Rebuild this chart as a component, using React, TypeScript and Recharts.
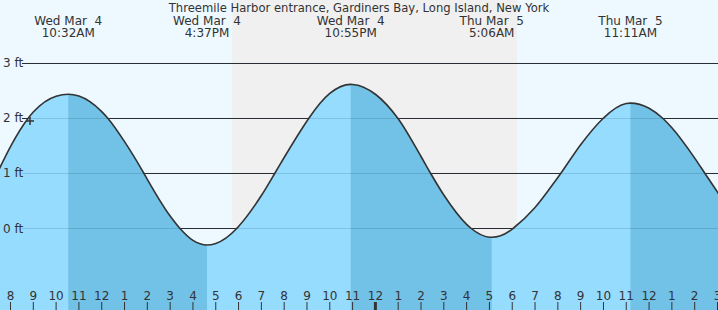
import React from 'react';
import {
  ComposedChart,
  Area,
  Line,
  XAxis,
  YAxis,
  ReferenceLine,
  ReferenceArea,
  ReferenceDot,
} from 'recharts';

// ---------- data (hours counted from Wed Mar 4, 00:00) ----------
const title = 'Threemile Harbor entrance, Gardiners Bay, Long Island, New York';

const tideTimes = [
  7.5, 8, 8.767, 9, 10, 10.533, 11, 12, 12.275, 13, 13.854, 14, 15, 15.432, 16, 16.617,
  17, 17.918, 18, 19, 19.585, 20, 21, 21.075, 22, 22.917, 23, 24, 24.991, 26,
  26.425, 27, 28, 28.205, 29, 29.1, 30, 30.034, 31, 32, 32.125, 33, 33.98, 34, 35,
  35.183, 36, 36.61, 37, 38, 38.452, 39, 39.05,
];
const tideFeet = [
  1.076, 1.49, 2.0, 2.117, 2.406, 2.44, 2.407, 2.124, 2.0, 1.58, 1.0, 0.893, 0.226, 0.0, -0.216, -0.3,
  -0.272, 0.0, 0.037, 0.599, 1.0, 1.291, 1.954, 2.0, 2.456, 2.62, 2.619, 2.441, 2.0, 1.309,
  1.0, 0.609, 0.076, 0.0, -0.158, -0.16, -0.011, 0.0, 0.383, 0.929, 1.0, 1.524, 2.0, 2.008, 2.273,
  2.28, 2.186, 2.0, 1.831, 1.28, 1.0, 0.662, 0.632,
];

const extremeTimes = [10.533, 16.617, 22.917, 29.1, 35.183];
const extremeKinds = ['high', 'low', 'high', 'low', 'high'];
const extremeDays = ['Wed Mar  4', 'Wed Mar  4', 'Wed Mar  4', 'Thu Mar  5', 'Thu Mar  5'];
const extremeClock = ['10:32AM', '4:37PM', '10:55PM', '5:06AM', '11:11AM'];

const hourTicks = [
  8, 9, 10, 11, 12, 13, 14, 15, 16, 17, 18, 19, 20, 21, 22, 23,
  24, 25, 26, 27, 28, 29, 30, 31, 32, 33, 34, 35, 36, 37, 38, 39,
];
const hourLabels = [
  '8', '9', '10', '11', '12', '1', '2', '3', '4', '5', '6', '7', '8', '9', '10', '11',
  '12', '1', '2', '3', '4', '5', '6', '7', '8', '9', '10', '11', '12', '1', '2', '3',
];
const midnightHour = 24;

const feetTicks = [0, 1, 2, 3];
const feetLabels = ['0 ft', '1 ft', '2 ft', '3 ft'];

const sunsetTime = 17.72;
const sunriseTime = 30.21;

const nowTime = 8.856;
const nowFeet = 1.955;

const viewStart = 7.5396;
const viewEnd = 39.0225;
const feetMin = -1.4818;
const feetMax = 4.1545;
const gridStart = 8.504;

// ---------- derived table ----------
const ebbSpans = extremeTimes
  .map((t, i) => ({ t, i }))
  .filter((e) => extremeKinds[e.i] === 'high')
  .map((e) => [e.t, e.i + 1 < extremeTimes.length ? extremeTimes[e.i + 1] : viewEnd + 1]);

const tideData = tideTimes.map((t, i) => {
  const inEbb = ebbSpans.some(([a, b]) => t >= a && t <= b);
  return { t, v: tideFeet[i], ebb: inEbb ? tideFeet[i] : null };
});

// ---------- styles ----------
const W = 718;
const H = 310;
const FONT = '"DejaVu Sans", sans-serif';
const TEXT = '#333333';
const DAY_BG = '#eef8ff';
const NIGHT_BG = '#f0f0f0';
const WATER = '#96dcff';
const WATER_EBB = '#72c1e6';

const makeHourTick = (i: number) => (props: any) => {
  const vb = props.viewBox || {};
  const x = vb.x;
  const thick = hourTicks[i] === midnightHour;
  return (
    <g>
      <line x1={x} x2={x} y1={H - 8} y2={H} stroke={TEXT} strokeWidth={thick ? 3 : 1} />
      <text x={x} y={H - 10} textAnchor="middle" fontFamily={FONT} fontSize={12} fill={TEXT}>
        {hourLabels[i]}
      </text>
    </g>
  );
};

const makeFeetLabel = (i: number) => (props: any) => {
  const vb = props.viewBox || {};
  return (
    <text x={3} y={vb.y + 4} textAnchor="start" fontFamily={FONT} fontSize={12} fill={TEXT}>
      {feetLabels[i]}
    </text>
  );
};

const makeHeader = (i: number) => (props: any) => {
  const vb = props.viewBox || {};
  const x = vb.x;
  return (
    <g>
      <text x={x} y={25} textAnchor="middle" fontFamily={FONT} fontSize={12} fill={TEXT} style={{ whiteSpace: 'pre' }}>
        {extremeDays[i]}
      </text>
      <text x={x} y={37} textAnchor="middle" fontFamily={FONT} fontSize={12} fill={TEXT}>
        {extremeClock[i]}
      </text>
    </g>
  );
};

const TitleLabel = (props: any) => {
  const vb = props.viewBox || {};
  return (
    <text x={vb.x + vb.width / 2} y={12} textAnchor="middle" fontFamily={FONT} fontSize={11.6} fill={TEXT}>
      {title}
    </text>
  );
};

const Cross = (props: any) => {
  const { cx, cy } = props;
  return (
    <g>
      <line x1={cx - 4} x2={cx + 4} y1={cy} y2={cy} stroke={TEXT} strokeWidth={1.5} />
      <line x1={cx} x2={cx} y1={cy - 4} y2={cy + 4} stroke={TEXT} strokeWidth={1.5} />
    </g>
  );
};

export default function App() {
  return (
    <div style={{ position: 'absolute', left: 0, top: 0, width: W, height: H, background: DAY_BG }}>
      <ComposedChart width={W} height={H} data={tideData} margin={{ top: 0, right: 0, bottom: 0, left: 0 }}>
        <XAxis dataKey="t" type="number" domain={[viewStart, viewEnd]} allowDataOverflow hide />
        <YAxis type="number" domain={[feetMin, feetMax]} allowDataOverflow hide />
        <ReferenceArea
          x1={sunsetTime}
          x2={sunriseTime}
          fill={NIGHT_BG}
          fillOpacity={1}
          stroke="none"
          zIndex={-250}
        />
        {feetTicks.map((f) => (
          <ReferenceLine
            key={'g' + f}
            segment={[{ x: gridStart, y: f }, { x: viewEnd, y: f }]}
            stroke="#2e2e2e"
            strokeWidth={1}
            zIndex={-200}
          />
        ))}
        <Area
          dataKey="v"
          type="monotone"
          baseValue="dataMin"
          fill={WATER}
          fillOpacity={1}
          stroke="none"
          isAnimationActive={false}
          dot={false}
          activeDot={false}
          zIndex={100}
        />
        <Area
          dataKey="ebb"
          type="monotone"
          baseValue="dataMin"
          fill={WATER_EBB}
          fillOpacity={1}
          stroke="none"
          isAnimationActive={false}
          dot={false}
          activeDot={false}
          zIndex={110}
        />
        {feetTicks.map((f) => (
          <ReferenceLine
            key={'f' + f}
            segment={[{ x: gridStart, y: f }, { x: viewEnd, y: f }]}
            stroke="rgba(0,40,80,0.15)"
            strokeWidth={1}
            zIndex={150}
          />
        ))}
        <Line
          dataKey="v"
          type="monotone"
          stroke="#333333"
          strokeWidth={1.6}
          dot={false}
          activeDot={false}
          isAnimationActive={false}
          zIndex={400}
        />
        <ReferenceArea
          x1={viewStart}
          x2={viewEnd}
          fill="none"
          fillOpacity={0}
          stroke="none"
          label={{ content: TitleLabel }}
          zIndex={600}
        />
        {extremeTimes.map((t, i) => (
          <ReferenceLine key={'h' + i} x={t} stroke="none" label={{ content: makeHeader(i) }} zIndex={600} />
        ))}
        {hourTicks.map((h, i) => (
          <ReferenceLine key={'t' + h} x={h} stroke="none" label={{ content: makeHourTick(i) }} zIndex={600} />
        ))}
        {feetTicks.map((f, i) => (
          <ReferenceLine key={'l' + f} y={f} stroke="none" label={{ content: makeFeetLabel(i) }} zIndex={600} />
        ))}
        <ReferenceDot x={nowTime} y={nowFeet} r={4} shape={Cross} zIndex={700} />
      </ComposedChart>
    </div>
  );
}
